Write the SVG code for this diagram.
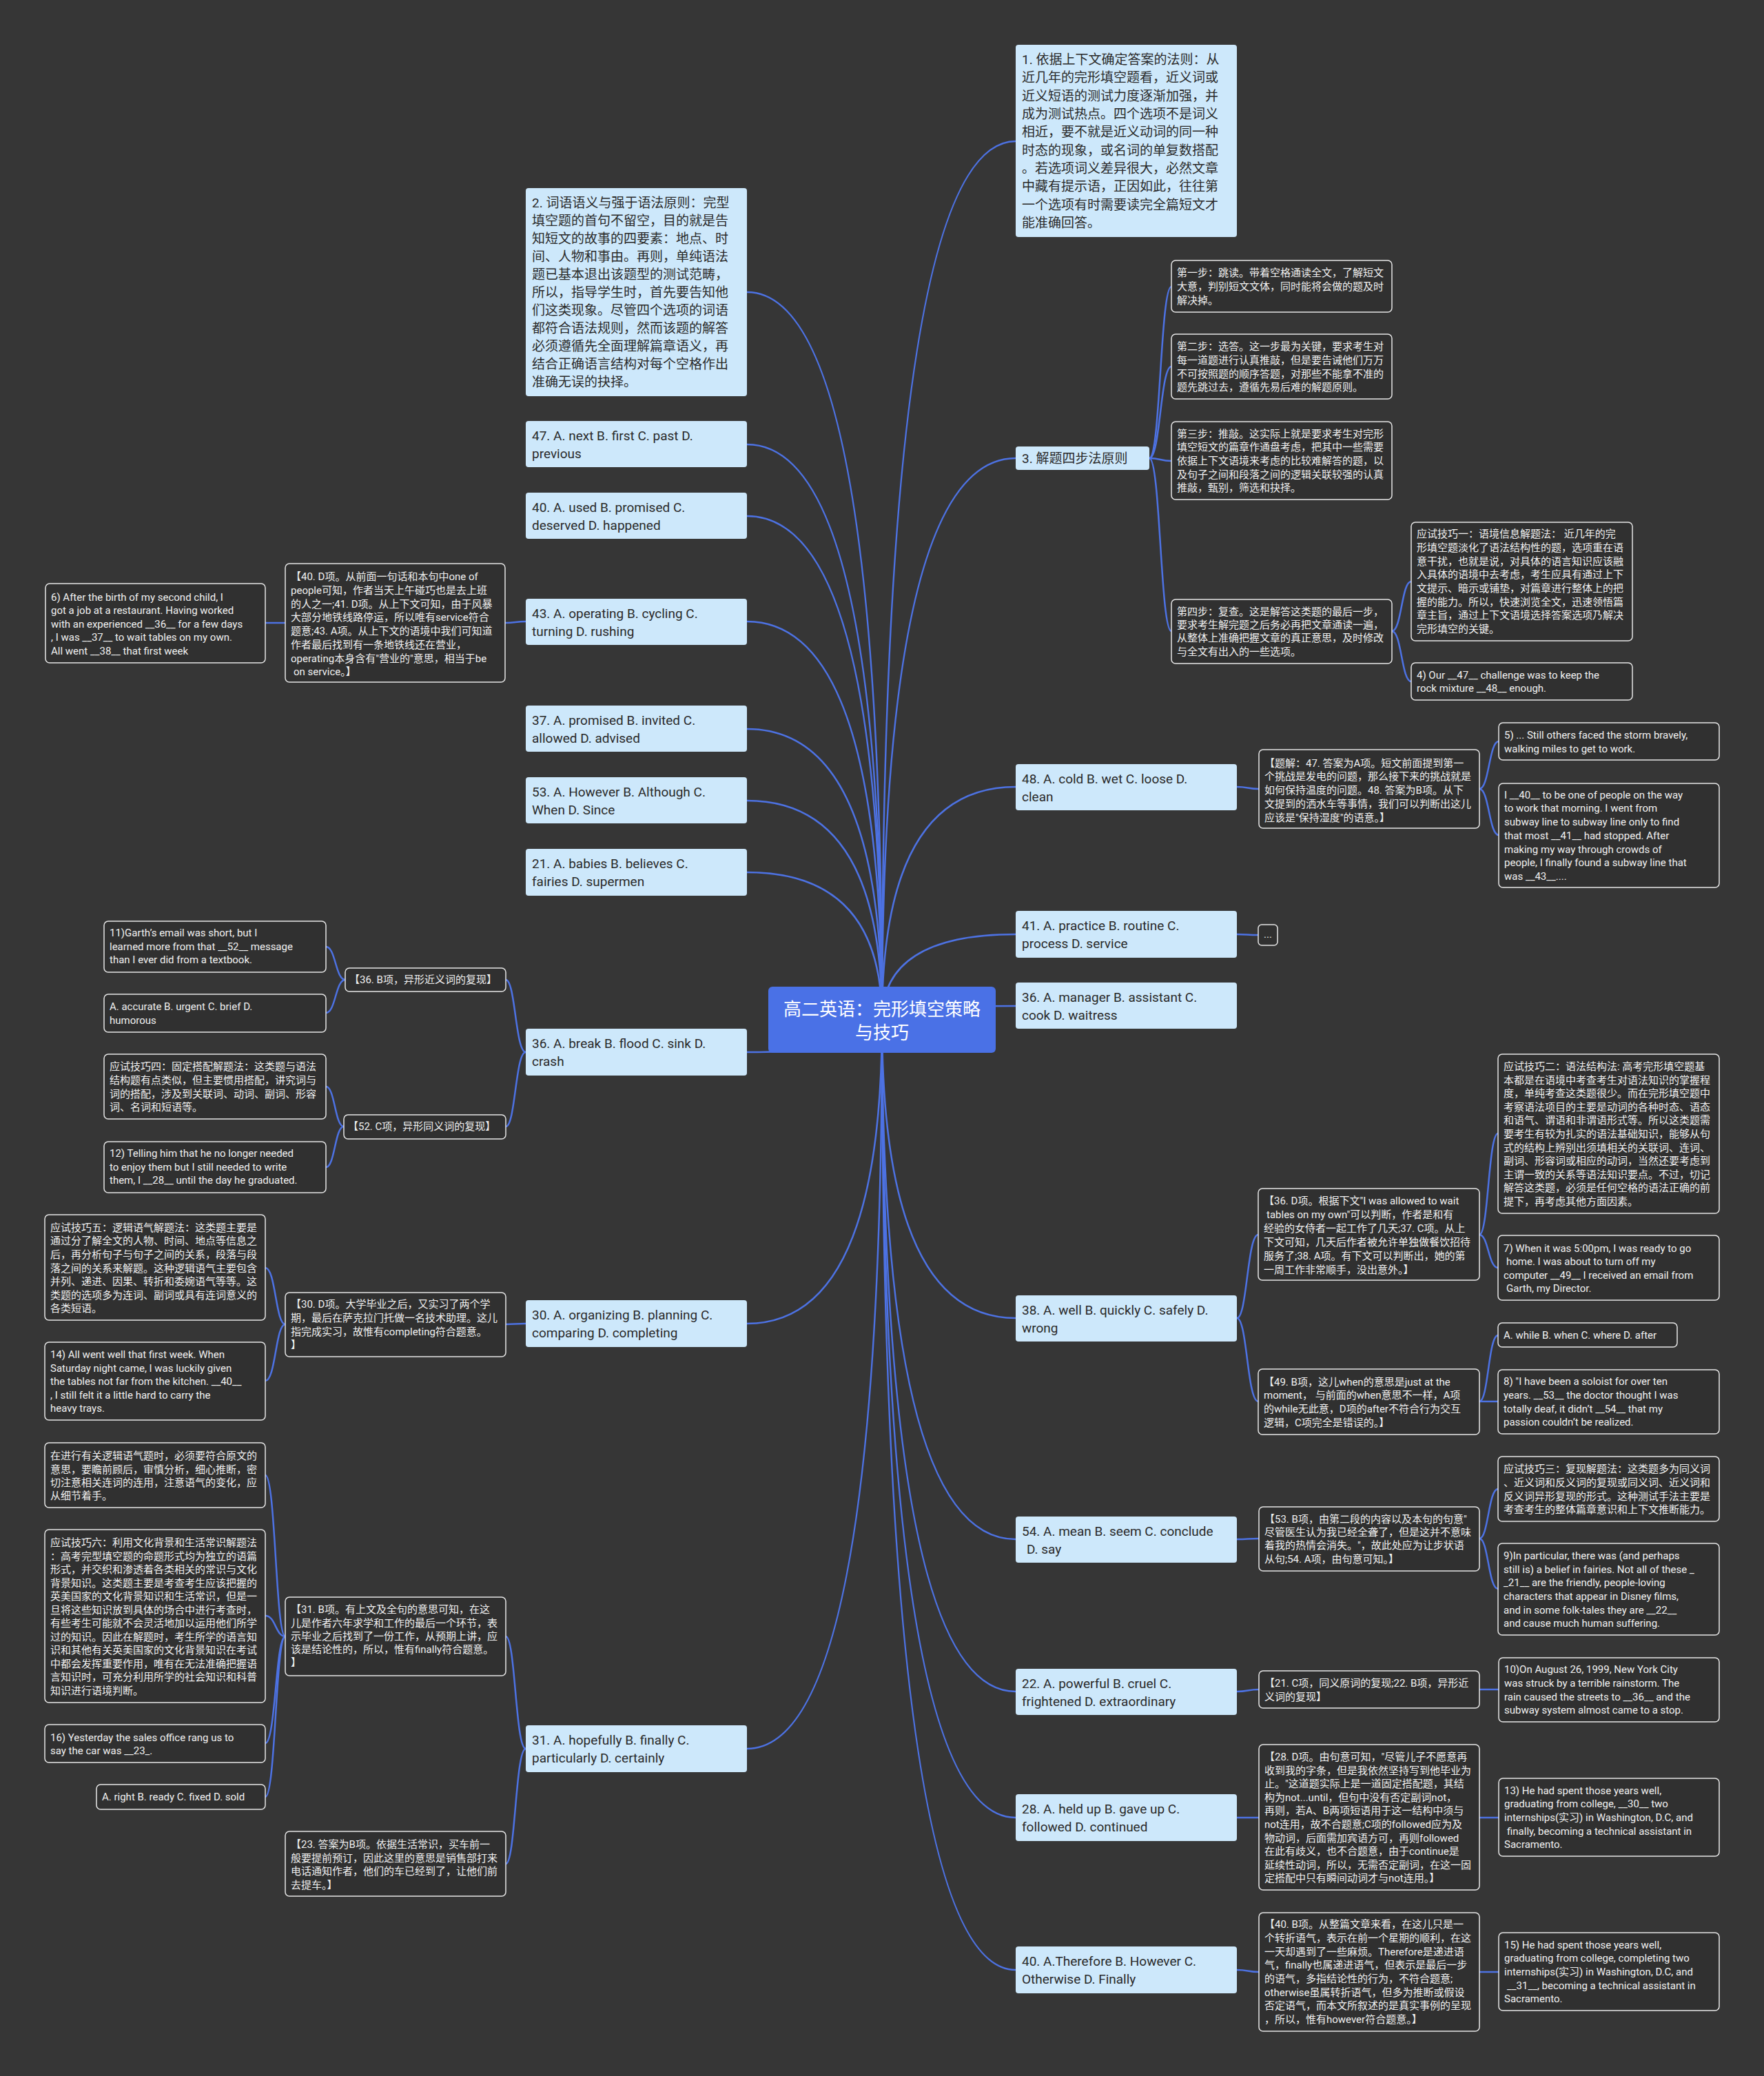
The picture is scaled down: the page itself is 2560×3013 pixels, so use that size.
<svg xmlns="http://www.w3.org/2000/svg" width="2560" height="3013" viewBox="0 0 2560 3013">
<style>
text{font-family:"Roboto","Noto Sans CJK SC",sans-serif}
.l2{fill:#303030;stroke:#e6e6e6;stroke-width:1.5}
.t2{font-size:15px;fill:#f0f0f0}
.l1{fill:#cde8fb}
.t1{font-size:19px;fill:#2a2a2a}
.e{fill:none;stroke:#4d72e3;stroke-width:2.5}
</style>
<rect x="0" y="0" width="2560" height="3013" fill="#363636"/>
<g id="connectors">
<path class="e" d="M1280 1480 Q1280 424 1084 424"/>
<path class="e" d="M1280 1480 Q1280 645 1084 645"/>
<path class="e" d="M1280 1480 Q1280 749 1084 749"/>
<path class="e" d="M1280 1480 Q1280 902 1084 902"/>
<path class="e" d="M1280 1480 Q1280 1058 1084 1058"/>
<path class="e" d="M1280 1480 Q1280 1162 1084 1162"/>
<path class="e" d="M1280 1480 Q1280 1266 1084 1266"/>
<path class="e" d="M1280 1480 Q1280 1527 1084 1527"/>
<path class="e" d="M1280 1480 Q1280 1921 1084 1921"/>
<path class="e" d="M1280 1480 Q1280 2538 1084 2538"/>
<path class="e" d="M1280 1480 Q1280 205 1474 205"/>
<path class="e" d="M1280 1480 Q1280 665 1474 665"/>
<path class="e" d="M1280 1480 Q1280 1142 1474 1142"/>
<path class="e" d="M1280 1480 Q1280 1356 1474 1356"/>
<path class="e" d="M1280 1480 Q1280 1460 1474 1460"/>
<path class="e" d="M1280 1480 Q1280 1913 1474 1913"/>
<path class="e" d="M1280 1480 Q1280 2234 1474 2234"/>
<path class="e" d="M1280 1480 Q1280 2455 1474 2455"/>
<path class="e" d="M1280 1480 Q1280 2638 1474 2638"/>
<path class="e" d="M1280 1480 Q1280 2859 1474 2859"/>
<path class="e" d="M1668 665 C1684 665 1684 416 1700 416"/>
<path class="e" d="M1668 665 C1684 665 1684 532 1700 532"/>
<path class="e" d="M1668 665 C1684 665 1684 669 1700 669"/>
<path class="e" d="M1668 665 C1684 665 1684 916 1700 916"/>
<path class="e" d="M2020 916 C2034 916 2034 844 2048 844"/>
<path class="e" d="M2020 916 C2034 916 2034 989 2048 989"/>
<path class="e" d="M1795 1142 C1811 1142 1811 1145 1827 1145"/>
<path class="e" d="M2147 1145 C2161 1145 2161 1076 2175 1076"/>
<path class="e" d="M2147 1145 C2161 1145 2161 1212 2175 1212"/>
<path class="e" d="M1795 1356 C1810 1356 1810 1357 1826 1357"/>
<path class="e" d="M1795 1913 C1810 1913 1810 1792 1826 1792"/>
<path class="e" d="M1795 1913 C1810 1913 1810 2034 1826 2034"/>
<path class="e" d="M2147 1792 C2160 1792 2160 1645 2174 1645"/>
<path class="e" d="M2147 1792 C2160 1792 2160 1840 2174 1840"/>
<path class="e" d="M2147 2034 C2160 2034 2160 1938 2174 1938"/>
<path class="e" d="M2147 2034 C2160 2034 2160 2034 2174 2034"/>
<path class="e" d="M1795 2234 C1811 2234 1811 2233 1827 2233"/>
<path class="e" d="M2147 2233 C2160 2233 2160 2161 2174 2161"/>
<path class="e" d="M2147 2233 C2160 2233 2160 2306 2174 2306"/>
<path class="e" d="M1795 2455 C1811 2455 1811 2452 1827 2452"/>
<path class="e" d="M2147 2452 C2161 2452 2161 2452 2175 2452"/>
<path class="e" d="M1795 2638 C1811 2638 1811 2638 1827 2638"/>
<path class="e" d="M2147 2638 C2161 2638 2161 2638 2175 2638"/>
<path class="e" d="M1795 2859 C1811 2859 1811 2862 1827 2862"/>
<path class="e" d="M2147 2862 C2161 2862 2161 2862 2175 2862"/>
<path class="e" d="M763 902 C748 902 748 904 733 904"/>
<path class="e" d="M414 904 C400 904 400 904 385 904"/>
<path class="e" d="M763 1527 C748 1527 748 1422 734 1422"/>
<path class="e" d="M763 1527 C748 1527 748 1635 734 1635"/>
<path class="e" d="M501 1422 C487 1422 487 1374 473 1374"/>
<path class="e" d="M501 1422 C487 1422 487 1470 473 1470"/>
<path class="e" d="M499 1635 C486 1635 486 1577 473 1577"/>
<path class="e" d="M499 1635 C486 1635 486 1694 473 1694"/>
<path class="e" d="M763 1921 C748 1921 748 1922 734 1922"/>
<path class="e" d="M414 1922 C400 1922 400 1840 385 1840"/>
<path class="e" d="M414 1922 C400 1922 400 2004 385 2004"/>
<path class="e" d="M763 2538 C748 2538 748 2375 734 2375"/>
<path class="e" d="M763 2538 C748 2538 748 2705 734 2705"/>
<path class="e" d="M414 2375 C400 2375 400 2141 385 2141"/>
<path class="e" d="M414 2375 C400 2375 400 2345 385 2345"/>
<path class="e" d="M414 2375 C400 2375 400 2530 385 2530"/>
<path class="e" d="M414 2375 C400 2375 400 2608 385 2608"/>
</g>
<g id="root">
<rect x="1115" y="1432" width="330" height="96" rx="6" fill="#4a71e6"/>
<text font-size="26" fill="#ffffff" text-anchor="middle"><tspan x="1280" y="1474">高二英语：完形填空策略</tspan><tspan x="1280" y="1508">与技巧</tspan></text>
</g>
<g id="n-l2">
<rect class="l1" x="763" y="273" width="321" height="302" rx="4"/>
<text class="t1"><tspan x="772" y="301">2. 词语语义与强于语法原则：完型</tspan><tspan x="772" y="327">填空题的首句不留空，目的就是告</tspan><tspan x="772" y="353">知短文的故事的四要素：地点、时</tspan><tspan x="772" y="379">间、人物和事由。再则，单纯语法</tspan><tspan x="772" y="405">题已基本退出该题型的测试范畴，</tspan><tspan x="772" y="431">所以，指导学生时，首先要告知他</tspan><tspan x="772" y="457">们这类现象。尽管四个选项的词语</tspan><tspan x="772" y="483">都符合语法规则，然而该题的解答</tspan><tspan x="772" y="509">必须遵循先全面理解篇章语义，再</tspan><tspan x="772" y="535">结合正确语言结构对每个空格作出</tspan><tspan x="772" y="561">准确无误的抉择。</tspan></text>
</g>
<g id="n-l47">
<rect class="l1" x="763" y="611" width="321" height="67" rx="4"/>
<text class="t1"><tspan x="772" y="639">47. A. next B. first C. past D.</tspan><tspan x="772" y="665">previous</tspan></text>
</g>
<g id="n-l40">
<rect class="l1" x="763" y="715" width="321" height="67" rx="4"/>
<text class="t1"><tspan x="772" y="743">40. A. used B. promised C.</tspan><tspan x="772" y="769">deserved D. happened</tspan></text>
</g>
<g id="n-l43">
<rect class="l1" x="763" y="869" width="321" height="67" rx="4"/>
<text class="t1"><tspan x="772" y="897">43. A. operating B. cycling C.</tspan><tspan x="772" y="923">turning D. rushing</tspan></text>
</g>
<g id="n-l37">
<rect class="l1" x="763" y="1024" width="321" height="67" rx="4"/>
<text class="t1"><tspan x="772" y="1052">37. A. promised B. invited C.</tspan><tspan x="772" y="1078">allowed D. advised</tspan></text>
</g>
<g id="n-l53">
<rect class="l1" x="763" y="1128" width="321" height="67" rx="4"/>
<text class="t1"><tspan x="772" y="1156">53. A. However B. Although C.</tspan><tspan x="772" y="1182">When D. Since</tspan></text>
</g>
<g id="n-l21">
<rect class="l1" x="763" y="1232" width="321" height="68" rx="4"/>
<text class="t1"><tspan x="772" y="1260">21. A. babies B. believes C.</tspan><tspan x="772" y="1286">fairies D. supermen</tspan></text>
</g>
<g id="n-l36">
<rect class="l1" x="763" y="1493" width="321" height="68" rx="4"/>
<text class="t1"><tspan x="772" y="1521">36. A. break B. flood C. sink D.</tspan><tspan x="772" y="1547">crash</tspan></text>
</g>
<g id="n-l30">
<rect class="l1" x="763" y="1887" width="321" height="68" rx="4"/>
<text class="t1"><tspan x="772" y="1915">30. A. organizing B. planning C.</tspan><tspan x="772" y="1941">comparing D. completing</tspan></text>
</g>
<g id="n-l31">
<rect class="l1" x="763" y="2504" width="321" height="68" rx="4"/>
<text class="t1"><tspan x="772" y="2532">31. A. hopefully B. finally C.</tspan><tspan x="772" y="2558">particularly D. certainly</tspan></text>
</g>
<g id="n-r1">
<rect class="l1" x="1474" y="65" width="321" height="279" rx="4"/>
<text class="t1"><tspan x="1483" y="93">1. 依据上下文确定答案的法则：从</tspan><tspan x="1483" y="119">近几年的完形填空题看，近义词或</tspan><tspan x="1483" y="146">近义短语的测试力度逐渐加强，并</tspan><tspan x="1483" y="172">成为测试热点。四个选项不是词义</tspan><tspan x="1483" y="198">相近，要不就是近义动词的同一种</tspan><tspan x="1483" y="225">时态的现象，或名词的单复数搭配</tspan><tspan x="1483" y="251">。若选项词义差异很大，必然文章</tspan><tspan x="1483" y="277">中藏有提示语，正因如此，往往第</tspan><tspan x="1483" y="304">一个选项有时需要读完全篇短文才</tspan><tspan x="1483" y="330">能准确回答。</tspan></text>
</g>
<g id="n-r3">
<rect class="l1" x="1474" y="648" width="194" height="34" rx="4"/>
<text class="t1"><tspan x="1483" y="672">3. 解题四步法原则</tspan></text>
</g>
<g id="n-r48">
<rect class="l1" x="1474" y="1109" width="321" height="67" rx="4"/>
<text class="t1"><tspan x="1483" y="1137">48. A. cold B. wet C. loose D.</tspan><tspan x="1483" y="1163">clean</tspan></text>
</g>
<g id="n-r41">
<rect class="l1" x="1474" y="1322" width="321" height="68" rx="4"/>
<text class="t1"><tspan x="1483" y="1350">41. A. practice B. routine C.</tspan><tspan x="1483" y="1376">process D. service</tspan></text>
</g>
<g id="n-r36">
<rect class="l1" x="1474" y="1426" width="321" height="67" rx="4"/>
<text class="t1"><tspan x="1483" y="1454">36. A. manager B. assistant C.</tspan><tspan x="1483" y="1480">cook D. waitress</tspan></text>
</g>
<g id="n-r38">
<rect class="l1" x="1474" y="1880" width="321" height="67" rx="4"/>
<text class="t1"><tspan x="1483" y="1908">38. A. well B. quickly C. safely D.</tspan><tspan x="1483" y="1934">wrong</tspan></text>
</g>
<g id="n-r54">
<rect class="l1" x="1474" y="2201" width="321" height="67" rx="4"/>
<text class="t1"><tspan x="1483" y="2229">54. A. mean B. seem C. conclude</tspan><tspan x="1490" y="2255">D. say</tspan></text>
</g>
<g id="n-r22">
<rect class="l1" x="1474" y="2422" width="321" height="67" rx="4"/>
<text class="t1"><tspan x="1483" y="2450">22. A. powerful B. cruel C.</tspan><tspan x="1483" y="2476">frightened D. extraordinary</tspan></text>
</g>
<g id="n-r28">
<rect class="l1" x="1474" y="2604" width="321" height="68" rx="4"/>
<text class="t1"><tspan x="1483" y="2632">28. A. held up B. gave up C.</tspan><tspan x="1483" y="2658">followed D. continued</tspan></text>
</g>
<g id="n-r40">
<rect class="l1" x="1474" y="2825" width="321" height="68" rx="4"/>
<text class="t1"><tspan x="1483" y="2853">40. A.Therefore B. However C.</tspan><tspan x="1483" y="2879">Otherwise D. Finally</tspan></text>
</g>
<g id="s1">
<rect class="l2" x="1700" y="378" width="320" height="75" rx="6"/>
<text class="t2"><tspan x="1708" y="401">第一步：跳读。带着空格通读全文，了解短文</tspan><tspan x="1708" y="421">大意，判别短文文体，同时能将会做的题及时</tspan><tspan x="1708" y="441">解决掉。</tspan></text>
</g>
<g id="s2">
<rect class="l2" x="1700" y="485" width="320" height="94" rx="6"/>
<text class="t2"><tspan x="1708" y="508">第二步：选答。这一步最为关键，要求考生对</tspan><tspan x="1708" y="528">每一道题进行认真推敲，但是要告诫他们万万</tspan><tspan x="1708" y="548">不可按照题的顺序答题，对那些不能拿不准的</tspan><tspan x="1708" y="567">题先跳过去，遵循先易后难的解题原则。</tspan></text>
</g>
<g id="s3">
<rect class="l2" x="1700" y="612" width="320" height="113" rx="6"/>
<text class="t2"><tspan x="1708" y="635">第三步：推敲。这实际上就是要求考生对完形</tspan><tspan x="1708" y="654">填空短文的篇章作通盘考虑，把其中一些需要</tspan><tspan x="1708" y="674">依据上下文语境来考虑的比较难解答的题，以</tspan><tspan x="1708" y="694">及句子之间和段落之间的逻辑关联较强的认真</tspan><tspan x="1708" y="713">推敲，甄别，筛选和抉择。</tspan></text>
</g>
<g id="s4">
<rect class="l2" x="1700" y="870" width="320" height="93" rx="6"/>
<text class="t2"><tspan x="1708" y="893">第四步：复查。这是解答这类题的最后一步，</tspan><tspan x="1708" y="912">要求考生解完题之后务必再把文章通读一遍，</tspan><tspan x="1708" y="931">从整体上准确把握文章的真正意思，及时修改</tspan><tspan x="1708" y="951">与全文有出入的一些选项。</tspan></text>
</g>
<g id="tip1">
<rect class="l2" x="2048" y="758" width="321" height="172" rx="6"/>
<text class="t2"><tspan x="2056" y="780">应试技巧一：语境信息解题法： 近几年的完</tspan><tspan x="2056" y="800">形填空题淡化了语法结构性的题，选项重在语</tspan><tspan x="2056" y="820">意干扰，也就是说，对具体的语言知识应该融</tspan><tspan x="2056" y="839">入具体的语境中去考虑，考生应具有通过上下</tspan><tspan x="2056" y="859">文提示、暗示或铺垫，对篇章进行整体上的把</tspan><tspan x="2056" y="879">握的能力。所以，快速浏览全文，迅速领悟篇</tspan><tspan x="2056" y="898">章主旨，通过上下文语境选择答案选项乃解决</tspan><tspan x="2056" y="918">完形填空的关键。</tspan></text>
</g>
<g id="q4">
<rect class="l2" x="2048" y="962" width="321" height="54" rx="6"/>
<text class="t2"><tspan x="2056" y="985">4) Our __47__ challenge was to keep the</tspan><tspan x="2056" y="1004">rock mixture __48__ enough.</tspan></text>
</g>
<g id="q6">
<rect class="l2" x="66" y="847" width="319" height="115" rx="6"/>
<text class="t2"><tspan x="74" y="872">6) After the birth of my second child, I</tspan><tspan x="74" y="891">got a job at a restaurant. Having worked</tspan><tspan x="74" y="911">with an experienced __36__ for a few days</tspan><tspan x="74" y="930">, I was __37__ to wait tables on my own.</tspan><tspan x="74" y="950">All went __38__ that first week</tspan></text>
</g>
<g id="a40d">
<rect class="l2" x="414" y="818" width="319" height="172" rx="6"/>
<text class="t2"><tspan x="422" y="842">【40. D项。从前面一句话和本句中one of</tspan><tspan x="422" y="862">people可知，作者当天上午碰巧也是去上班</tspan><tspan x="422" y="882">的人之一;41. D项。从上下文可知，由于风暴</tspan><tspan x="422" y="901">大部分地铁线路停运，所以唯有service符合</tspan><tspan x="422" y="921">题意;43. A项。从上下文的语境中我们可知道</tspan><tspan x="422" y="941">作者最后找到有一条地铁线还在营业，</tspan><tspan x="422" y="961">operating本身含有"营业的"意思，相当于be</tspan><tspan x="426" y="980">on service。】</tspan></text>
</g>
<g id="a48">
<rect class="l2" x="1827" y="1088" width="320" height="114" rx="6"/>
<text class="t2"><tspan x="1835" y="1113">【题解：47. 答案为A项。短文前面提到第一</tspan><tspan x="1835" y="1132">个挑战是发电的问题，那么接下来的挑战就是</tspan><tspan x="1835" y="1152">如何保持温度的问题。48. 答案为B项。从下</tspan><tspan x="1835" y="1172">文提到的洒水车等事情，我们可以判断出这儿</tspan><tspan x="1835" y="1192">应该是"保持湿度"的语意。】</tspan></text>
</g>
<g id="q5">
<rect class="l2" x="2175" y="1049" width="320" height="54" rx="6"/>
<text class="t2"><tspan x="2183" y="1072">5) ... Still others faced the storm bravely,</tspan><tspan x="2183" y="1092">walking miles to get to work.</tspan></text>
</g>
<g id="q40">
<rect class="l2" x="2175" y="1137" width="320" height="151" rx="6"/>
<text class="t2"><tspan x="2183" y="1159">I __40__ to be one of people on the way</tspan><tspan x="2183" y="1178">to work that morning. I went from</tspan><tspan x="2183" y="1198">subway line to subway line only to find</tspan><tspan x="2183" y="1218">that most __41__ had stopped. After</tspan><tspan x="2183" y="1238">making my way through crowds of</tspan><tspan x="2183" y="1257">people, I finally found a subway line that</tspan><tspan x="2183" y="1277">was __43__....</tspan></text>
</g>
<g id="dots">
<rect class="l2" x="1826" y="1342" width="28" height="30" rx="5"/>
<text class="t2" text-anchor="middle"><tspan x="1840" y="1361">...</tspan></text>
</g>
<g id="a36d">
<rect class="l2" x="1826" y="1725" width="321" height="133" rx="6"/>
<text class="t2"><tspan x="1834" y="1748">【36. D项。根据下文"I was allowed to wait</tspan><tspan x="1838" y="1768">tables on my own"可以判断，作者是和有</tspan><tspan x="1834" y="1788">经验的女侍者一起工作了几天;37. C项。从上</tspan><tspan x="1834" y="1808">下文可知，几天后作者被允许单独做餐饮招待</tspan><tspan x="1834" y="1828">服务了;38. A项。有下文可以判断出，她的第</tspan><tspan x="1834" y="1848">一周工作非常顺手，没出意外。】</tspan></text>
</g>
<g id="a49b">
<rect class="l2" x="1826" y="1987" width="321" height="95" rx="6"/>
<text class="t2"><tspan x="1834" y="2011">【49. B项，这儿when的意思是just at the</tspan><tspan x="1834" y="2030">moment， 与前面的when意思不一样，A项</tspan><tspan x="1834" y="2050">的while无此意，D项的after不符合行为交互</tspan><tspan x="1834" y="2070">逻辑，C项完全是错误的。】</tspan></text>
</g>
<g id="tip2">
<rect class="l2" x="2174" y="1530" width="321" height="231" rx="6"/>
<text class="t2"><tspan x="2182" y="1553">应试技巧二：语法结构法: 高考完形填空题基</tspan><tspan x="2182" y="1573">本都是在语境中考查考生对语法知识的掌握程</tspan><tspan x="2182" y="1592">度，单纯考查这类题很少。而在完形填空题中</tspan><tspan x="2182" y="1612">考察语法项目的主要是动词的各种时态、语态</tspan><tspan x="2182" y="1631">和语气、谓语和非谓语形式等。所以这类题需</tspan><tspan x="2182" y="1651">要考生有较为扎实的语法基础知识，能够从句</tspan><tspan x="2182" y="1671">式的结构上辨别出须填相关的关联词、连词、</tspan><tspan x="2182" y="1690">副词、形容词或相应的动词，当然还要考虑到</tspan><tspan x="2182" y="1710">主谓一致的关系等语法知识要点。不过，切记</tspan><tspan x="2182" y="1729">解答这类题，必须是任何空格的语法正确的前</tspan><tspan x="2182" y="1749">提下，再考虑其他方面因素。</tspan></text>
</g>
<g id="q7">
<rect class="l2" x="2174" y="1793" width="321" height="94" rx="6"/>
<text class="t2"><tspan x="2182" y="1817">7) When it was 5:00pm, I was ready to go</tspan><tspan x="2186" y="1836">home. I was about to turn off my</tspan><tspan x="2182" y="1856">computer __49__ I received an email from</tspan><tspan x="2186" y="1875">Garth, my Director.</tspan></text>
</g>
<g id="o49">
<rect class="l2" x="2174" y="1920" width="260" height="35" rx="6"/>
<text class="t2"><tspan x="2182" y="1943">A. while B. when C. where D. after</tspan></text>
</g>
<g id="q8">
<rect class="l2" x="2174" y="1988" width="321" height="93" rx="6"/>
<text class="t2"><tspan x="2182" y="2010">8) "I have been a soloist for over ten</tspan><tspan x="2182" y="2030">years. __53__ the doctor thought I was</tspan><tspan x="2182" y="2050">totally deaf, it didn’t __54__ that my</tspan><tspan x="2182" y="2069">passion couldn’t be realized.</tspan></text>
</g>
<g id="tip3">
<rect class="l2" x="2174" y="2114" width="321" height="94" rx="6"/>
<text class="t2"><tspan x="2182" y="2137">应试技巧三：复现解题法：这类题多为同义词</tspan><tspan x="2182" y="2157">、近义词和反义词的复现或同义词、近义词和</tspan><tspan x="2182" y="2177">反义词异形复现的形式。这种测试手法主要是</tspan><tspan x="2182" y="2196">考查考生的整体篇章意识和上下文推断能力。</tspan></text>
</g>
<g id="q9">
<rect class="l2" x="2174" y="2240" width="321" height="133" rx="6"/>
<text class="t2"><tspan x="2182" y="2263">9)In particular, there was (and perhaps</tspan><tspan x="2182" y="2283">still is) a belief in fairies. Not all of these _</tspan><tspan x="2182" y="2302">_21__ are the friendly, people-loving</tspan><tspan x="2182" y="2322">characters that appear in Disney films,</tspan><tspan x="2182" y="2342">and in some folk-tales they are __22__</tspan><tspan x="2182" y="2361">and cause much human suffering.</tspan></text>
</g>
<g id="a53b">
<rect class="l2" x="1827" y="2187" width="320" height="93" rx="6"/>
<text class="t2"><tspan x="1835" y="2210">【53. B项，由第二段的内容以及本句的句意"</tspan><tspan x="1835" y="2229">尽管医生认为我已经全聋了，但是这并不意味</tspan><tspan x="1835" y="2248">着我的热情会消失。"，故此处应为让步状语</tspan><tspan x="1835" y="2268">从句;54. A项，由句意可知。】</tspan></text>
</g>
<g id="a21c">
<rect class="l2" x="1827" y="2425" width="320" height="54" rx="6"/>
<text class="t2"><tspan x="1835" y="2448">【21. C项，同义原词的复现;22. B项，异形近</tspan><tspan x="1835" y="2468">义词的复现】</tspan></text>
</g>
<g id="q10">
<rect class="l2" x="2175" y="2406" width="320" height="93" rx="6"/>
<text class="t2"><tspan x="2183" y="2428">10)On August 26, 1999, New York City</tspan><tspan x="2183" y="2448">was struck by a terrible rainstorm. The</tspan><tspan x="2183" y="2468">rain caused the streets to __36__ and the</tspan><tspan x="2183" y="2487">subway system almost came to a stop.</tspan></text>
</g>
<g id="a28d">
<rect class="l2" x="1827" y="2532" width="320" height="211" rx="6"/>
<text class="t2"><tspan x="1835" y="2555">【28. D项。由句意可知，"尽管儿子不愿意再</tspan><tspan x="1835" y="2575">收到我的字条，但是我依然坚持写到他毕业为</tspan><tspan x="1835" y="2594">止。"这道题实际上是一道固定搭配题，其结</tspan><tspan x="1835" y="2614">构为not...until，但句中没有否定副词not，</tspan><tspan x="1835" y="2633">再则，若A、B两项短语用于这一结构中须与</tspan><tspan x="1835" y="2653">not连用，故不合题意;C项的followed应为及</tspan><tspan x="1835" y="2673">物动词，后面需加宾语方可，再则followed</tspan><tspan x="1835" y="2692">在此有歧义，也不合题意，由于continue是</tspan><tspan x="1835" y="2712">延续性动词，所以，无需否定副词，在这一固</tspan><tspan x="1835" y="2731">定搭配中只有瞬间动词才与not连用。】</tspan></text>
</g>
<g id="q13">
<rect class="l2" x="2175" y="2581" width="320" height="113" rx="6"/>
<text class="t2"><tspan x="2183" y="2604">13) He had spent those years well,</tspan><tspan x="2183" y="2623">graduating from college, __30__ two</tspan><tspan x="2183" y="2643">internships(实习) in Washington, D.C, and</tspan><tspan x="2187" y="2663">finally, becoming a technical assistant in</tspan><tspan x="2183" y="2682">Sacramento.</tspan></text>
</g>
<g id="a40b">
<rect class="l2" x="1827" y="2776" width="320" height="172" rx="6"/>
<text class="t2"><tspan x="1835" y="2798">【40. B项。从整篇文章来看，在这儿只是一</tspan><tspan x="1835" y="2818">个转折语气，表示在前一个星期的顺利，在这</tspan><tspan x="1835" y="2838">一天却遇到了一些麻烦。Therefore是递进语</tspan><tspan x="1835" y="2857">气，finally也属递进语气，但表示是最后一步</tspan><tspan x="1835" y="2877">的语气，多指结论性的行为，不符合题意;</tspan><tspan x="1835" y="2897">otherwise虽属转折语气，但多为推断或假设</tspan><tspan x="1835" y="2916">否定语气，而本文所叙述的是真实事例的呈现</tspan><tspan x="1835" y="2936">，所以，惟有however符合题意。】</tspan></text>
</g>
<g id="q15">
<rect class="l2" x="2175" y="2805" width="320" height="113" rx="6"/>
<text class="t2"><tspan x="2183" y="2828">15) He had spent those years well,</tspan><tspan x="2183" y="2847">graduating from college, completing two</tspan><tspan x="2183" y="2867">internships(实习) in Washington, D.C, and</tspan><tspan x="2187" y="2887">__31__, becoming a technical assistant in</tspan><tspan x="2183" y="2906">Sacramento.</tspan></text>
</g>
<g id="q11">
<rect class="l2" x="151" y="1337" width="322" height="74" rx="6"/>
<text class="t2"><tspan x="159" y="1359">11)Garth’s email was short, but I</tspan><tspan x="159" y="1379">learned more from that __52__ message</tspan><tspan x="159" y="1398">than I ever did from a textbook.</tspan></text>
</g>
<g id="o52">
<rect class="l2" x="151" y="1443" width="322" height="55" rx="6"/>
<text class="t2"><tspan x="159" y="1466">A. accurate B. urgent C. brief D.</tspan><tspan x="159" y="1486">humorous</tspan></text>
</g>
<g id="tip4">
<rect class="l2" x="151" y="1530" width="322" height="94" rx="6"/>
<text class="t2"><tspan x="159" y="1553">应试技巧四：固定搭配解题法：这类题与语法</tspan><tspan x="159" y="1573">结构题有点类似，但主要惯用搭配，讲究词与</tspan><tspan x="159" y="1593">词的搭配，涉及到关联词、动词、副词、形容</tspan><tspan x="159" y="1612">词、名词和短语等。</tspan></text>
</g>
<g id="q12">
<rect class="l2" x="151" y="1657" width="322" height="74" rx="6"/>
<text class="t2"><tspan x="159" y="1679">12) Telling him that he no longer needed</tspan><tspan x="159" y="1699">to enjoy them but I still needed to write</tspan><tspan x="159" y="1718">them, I __28__ until the day he graduated.</tspan></text>
</g>
<g id="a36b">
<rect class="l2" x="501" y="1405" width="233" height="34" rx="6"/>
<text class="t2"><tspan x="507" y="1427">【36. B项，异形近义词的复现】</tspan></text>
</g>
<g id="a52c">
<rect class="l2" x="499" y="1618" width="235" height="35" rx="6"/>
<text class="t2"><tspan x="505" y="1640">【52. C项，异形同义词的复现】</tspan></text>
</g>
<g id="tip5">
<rect class="l2" x="65" y="1763" width="320" height="153" rx="6"/>
<text class="t2"><tspan x="73" y="1787">应试技巧五：逻辑语气解题法：这类题主要是</tspan><tspan x="73" y="1806">通过分了解全文的人物、时间、地点等信息之</tspan><tspan x="73" y="1826">后，再分析句子与句子之间的关系，段落与段</tspan><tspan x="73" y="1846">落之间的关系来解题。这种逻辑语气主要包含</tspan><tspan x="73" y="1865">并列、递进、因果、转折和委婉语气等等。这</tspan><tspan x="73" y="1885">类题的选项多为连词、副词或具有连词意义的</tspan><tspan x="73" y="1904">各类短语。</tspan></text>
</g>
<g id="q14">
<rect class="l2" x="65" y="1948" width="320" height="113" rx="6"/>
<text class="t2"><tspan x="73" y="1971">14) All went well that first week. When</tspan><tspan x="73" y="1991">Saturday night came, I was luckily given</tspan><tspan x="73" y="2010">the tables not far from the kitchen. __40__</tspan><tspan x="73" y="2030">, I still felt it a little hard to carry the</tspan><tspan x="73" y="2049">heavy trays.</tspan></text>
</g>
<g id="a30d">
<rect class="l2" x="414" y="1876" width="320" height="93" rx="6"/>
<text class="t2"><tspan x="422" y="1898">【30. D项。大学毕业之后，又实习了两个学</tspan><tspan x="422" y="1918">期，最后在萨克拉门托做一名技术助理。这儿</tspan><tspan x="422" y="1938">指完成实习，故惟有completing符合题意。</tspan><tspan x="422" y="1957">】</tspan></text>
</g>
<g id="note1">
<rect class="l2" x="65" y="2094" width="320" height="94" rx="6"/>
<text class="t2"><tspan x="73" y="2118">在进行有关逻辑语气题时，必须要符合原文的</tspan><tspan x="73" y="2138">意思，要瞻前顾后，审慎分析，细心推断，密</tspan><tspan x="73" y="2157">切注意相关连词的连用，注意语气的变化，应</tspan><tspan x="73" y="2176">从细节着手。</tspan></text>
</g>
<g id="tip6">
<rect class="l2" x="65" y="2220" width="320" height="251" rx="6"/>
<text class="t2"><tspan x="73" y="2244">应试技巧六：利用文化背景和生活常识解题法</tspan><tspan x="73" y="2264">：高考完型填空题的命题形式均为独立的语篇</tspan><tspan x="73" y="2283">形式，并交织和渗透着各类相关的常识与文化</tspan><tspan x="73" y="2303">背景知识。这类题主要是考查考生应该把握的</tspan><tspan x="73" y="2322">英美国家的文化背景知识和生活常识，但是一</tspan><tspan x="73" y="2342">旦将这些知识放到具体的场合中进行考查时，</tspan><tspan x="73" y="2361">有些考生可能就不会灵活地加以运用他们所学</tspan><tspan x="73" y="2381">过的知识。因此在解题时，考生所学的语言知</tspan><tspan x="73" y="2400">识和其他有关英美国家的文化背景知识在考试</tspan><tspan x="73" y="2420">中都会发挥重要作用，唯有在无法准确把握语</tspan><tspan x="73" y="2439">言知识时，可充分利用所学的社会知识和科普</tspan><tspan x="73" y="2459">知识进行语境判断。</tspan></text>
</g>
<g id="a31b">
<rect class="l2" x="414" y="2318" width="320" height="114" rx="6"/>
<text class="t2"><tspan x="422" y="2341">【31. B项。有上文及全句的意思可知，在这</tspan><tspan x="422" y="2361">儿是作者六年求学和工作的最后一个环节，表</tspan><tspan x="422" y="2380">示毕业之后找到了一份工作，从预期上讲，应</tspan><tspan x="422" y="2399">该是结论性的，所以，惟有finally符合题意。</tspan><tspan x="422" y="2418">】</tspan></text>
</g>
<g id="q16">
<rect class="l2" x="65" y="2503" width="320" height="55" rx="6"/>
<text class="t2"><tspan x="73" y="2527">16) Yesterday the sales office rang us to</tspan><tspan x="73" y="2546">say the car was __23_.</tspan></text>
</g>
<g id="o23">
<rect class="l2" x="140" y="2590" width="245" height="36" rx="6"/>
<text class="t2"><tspan x="148" y="2613">A. right B. ready C. fixed D. sold</tspan></text>
</g>
<g id="a23">
<rect class="l2" x="414" y="2658" width="320" height="94" rx="6"/>
<text class="t2"><tspan x="422" y="2682">【23. 答案为B项。依据生活常识，买车前一</tspan><tspan x="422" y="2702">般要提前预订，因此这里的意思是销售部打来</tspan><tspan x="422" y="2721">电话通知作者，他们的车已经到了，让他们前</tspan><tspan x="422" y="2741">去提车。】</tspan></text>
</g>
</svg>
